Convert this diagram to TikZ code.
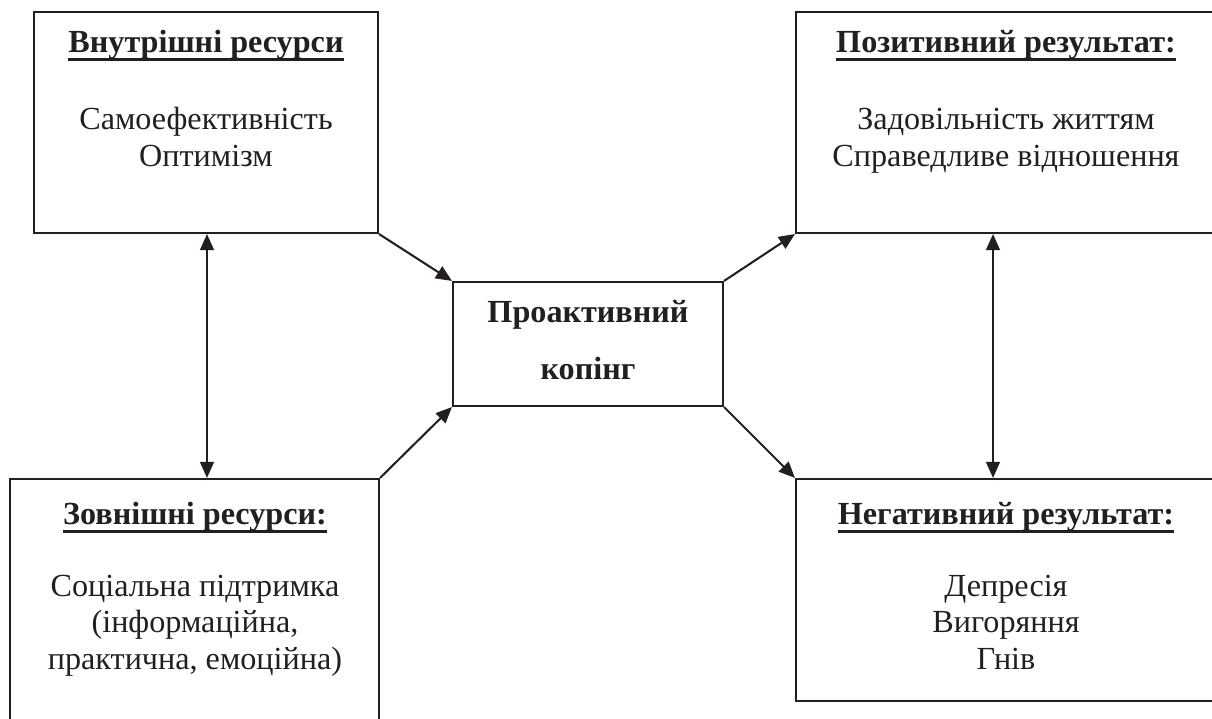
\documentclass[tikz,border=0pt]{standalone}
\usepackage{fontspec}
\setmainfont{Liberation Serif}
\usetikzlibrary{arrows.meta,fit}
\definecolor{ink}{RGB}{35,31,32}
\newcommand{\heading}[1]{\setbox0\hbox{\textbf{#1}}\rlap{\rule[-3.4pt]{\wd0}{1.4pt}}\box0}

\begin{document}
\begin{tikzpicture}[x=0.435pt,y=-0.435pt,
    every node/.style={text=ink,font=\fontsize{14pt}{16pt}\selectfont},
    box/.style={draw=ink,line width=0.9pt,inner sep=0pt},
    txt/.style={anchor=base,inner sep=0pt},
    link/.style={draw=ink,line width=0.9pt,-{Triangle[length=7pt,width=6pt]}},
    twoway/.style={link,{Triangle[length=7pt,width=6pt]}-{Triangle[length=7pt,width=6pt]}}]

        \useasboundingbox (0,0) rectangle (1212,719);
        \clip (0,0) rectangle (1212,719);

        % boxes
        \node[box,fit={(34,12) (378,233)}]    (inner)    {};
        \node[box,fit={(796,12) (1216,233)}]  (positive) {};
        \node[box,fit={(10,479) (379,730)}]   (outer)    {};
        \node[box,fit={(796,479) (1216,701)}] (negative) {};
        \node[box,fit={(453,282) (723,406)}]  (core)     {};

        % texts
        \node[txt] (innerhead) at (206,53)  {\heading{Внутрішні ресурси}};
        \node[txt] (inner1)    at (206,130) {Самоефективність};
        \node[txt] (inner2)    at (206,167) {Оптимізм};

        \node[txt] (poshead) at (1006,53)  {\heading{Позитивний результат:}};
        \node[txt] (pos1)    at (1006,130) {Задовільність життям};
        \node[txt] (pos2)    at (1006,167) {Справедливе відношення};

        \node[txt] (outerhead) at (195,525) {\heading{Зовнішні ресурси:}};
        \node[txt] (outer1)    at (195,597) {Соціальна підтримка};
        \node[txt] (outer2)    at (195,633) {(інформаційна,};
        \node[txt] (outer3)    at (195,670) {практична, емоційна)};

        \node[txt] (neghead) at (1006,525) {\heading{Негативний результат:}};
        \node[txt] (neg1)    at (1006,597) {Депресія};
        \node[txt] (neg2)    at (1006,633) {Вигоряння};
        \node[txt] (neg3)    at (1006,670) {Гнів};

        \node[txt] (core1) at (588,323) {\textbf{Проактивний}};
        \node[txt] (core2) at (588,380) {\textbf{копінг}};

        % connectors
        \path[link] (inner.south east) -- (core.north west);
        \path[link] (outer.north east) -- (core.south west);
        \path[link] (core.north east)  -- (positive.south west);
        \path[link] (core.south east)  -- (negative.north west);
        \path[twoway] (207,0 |- inner.south)    -- (207,0 |- outer.north);
        \path[twoway] (993,0 |- positive.south) -- (993,0 |- negative.north);

\end{tikzpicture}
\end{document}
